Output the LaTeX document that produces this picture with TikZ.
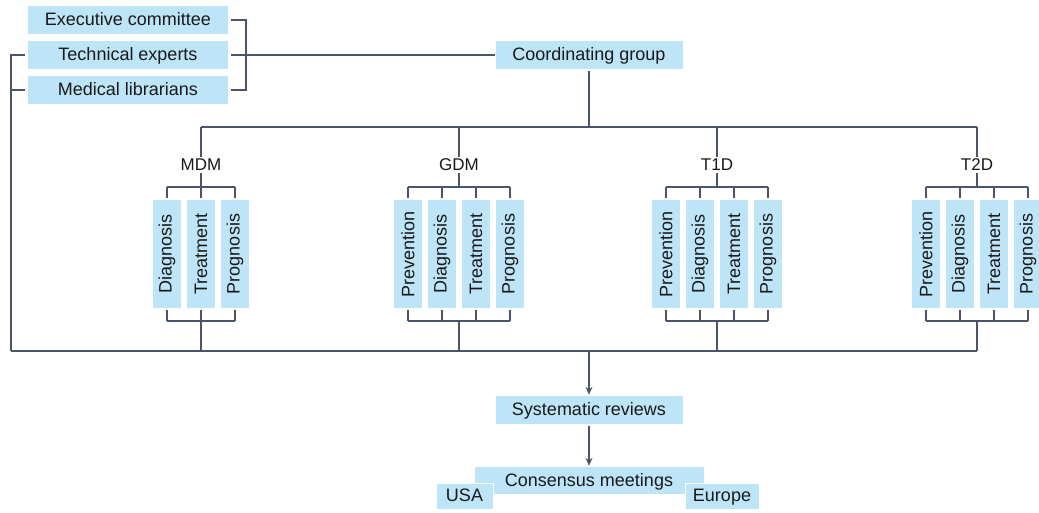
\documentclass[tikz,border=0pt]{standalone}
\usepackage{fontspec}
\setmainfont{Liberation Sans}
\usetikzlibrary{arrows.meta}
\definecolor{boxblue}{RGB}{190,229,247}
\definecolor{linegray}{RGB}{75,85,104}
\definecolor{txt}{RGB}{25,25,25}
\tikzset{
  conn/.style={draw=linegray, line width=1.5pt},
  arr/.style={conn, -{Stealth[length=8pt,width=7pt]}},
  hbox/.style={fill=boxblue, inner sep=0pt, text=txt, text height=14pt, text depth=3pt, font=\fontsize{18}{20}\selectfont},
  sub/.style={fill=boxblue, inner sep=0pt, minimum width=28pt, minimum height=108pt, text=txt, font=\fontsize{18}{20}\selectfont},
  lbl/.style={inner sep=2pt, text=txt, font=\fontsize{17}{19}\selectfont},
  place/.style={draw=white, line width=1pt}
}
\begin{document}
\begin{tikzpicture}[x=1pt,y=-1pt]
\useasboundingbox (0,0) rectangle (1039,512);
% top-left boxes
\node[hbox, minimum width=200pt, minimum height=28pt] (exec) at (128,20) {Executive committee};
\node[hbox, minimum width=200pt, minimum height=28pt] (tech) at (128,55) {Technical experts};
\node[hbox, minimum width=200pt, minimum height=28pt] (lib) at (128,90) {Medical librarians};
\node[hbox, minimum width=187pt, minimum height=28pt] (coord) at (589,55) {Coordinating group};
\node[hbox, minimum width=187pt, minimum height=28pt] (sys) at (589,410) {Systematic reviews};
\node[hbox, minimum width=229pt, minimum height=27pt] (cons) at (589,480.5) {Consensus meetings};
\node[hbox, place, minimum width=57pt, minimum height=26pt] (usa) at (464.5,496) {USA};
\node[hbox, place, minimum width=74pt, minimum height=26pt] (eur) at (722,496) {Europe};
% bracket at right of top-left boxes
\coordinate (brk) at (246,55);
\draw[conn] ([xshift=3pt]exec.east) -| (brk);
\draw[conn] ([xshift=3pt]lib.east) -| (brk);
\draw[conn] ([xshift=3pt]tech.east) -- (coord.west);
% left feedback line
\coordinate (lefttop) at (11,55);
\coordinate (leftbot) at (11,351);
\draw[conn] ([xshift=-3pt]tech.west) -- (lefttop) -- (leftbot);
\draw[conn] ([xshift=-3pt]lib.west) -- (lib.west -| lefttop);
% hubs
\coordinate (tophub) at (589,127);
\coordinate (bothub) at (589,351);
\draw[conn] ([yshift=-2pt]coord.south) -- (tophub);
\draw[arr] (bothub) -- ([yshift=1pt]sys.north);
\draw[arr] ([yshift=-2pt]sys.south) -- ([yshift=1pt]cons.north);
% groups
\foreach \g/\cx/\lab/\n/\items in {
  mdm/201/MDM/3/{Diagnosis,Treatment,Prognosis},
  gdm/459/GDM/4/{Prevention,Diagnosis,Treatment,Prognosis},
  tid/717/T1D/4/{Prevention,Diagnosis,Treatment,Prognosis},
  tiid/977/T2D/4/{Prevention,Diagnosis,Treatment,Prognosis}} {
  \node[lbl] (\g) at (\cx,165) {\lab};
  \draw[conn] (\g.north) -- (\g.north |- tophub);
  \foreach \it [count=\i] in \items {
    \pgfmathsetmacro{\bx}{\cx+(\i-(\n+1)/2)*34}
    \node[sub] (\g\i) at (\bx,254) {\rotatebox{90}{\it}};
    \draw[conn] ([yshift=2pt]\g\i.north) -- (\g\i.north |- 0,187);
    \draw[conn] ([yshift=-2pt]\g\i.south) -- (\g\i.south |- 0,321);
  }
  \draw[conn] (\g1.north |- 0,187) -- (\g\n.north |- 0,187);
  \draw[conn] (\g.south) -- (\g.south |- 0,187);
  \draw[conn] (\g1.south |- 0,321) -- (\g\n.south |- 0,321);
  \draw[conn] (\cx,321) -- (\cx,351);
}
\draw[conn] (mdm.north |- tophub) -- (tiid.north |- tophub);
\draw[conn] (leftbot) -- (bothub) -- (tiid.north |- bothub);
\end{tikzpicture}
\end{document}
